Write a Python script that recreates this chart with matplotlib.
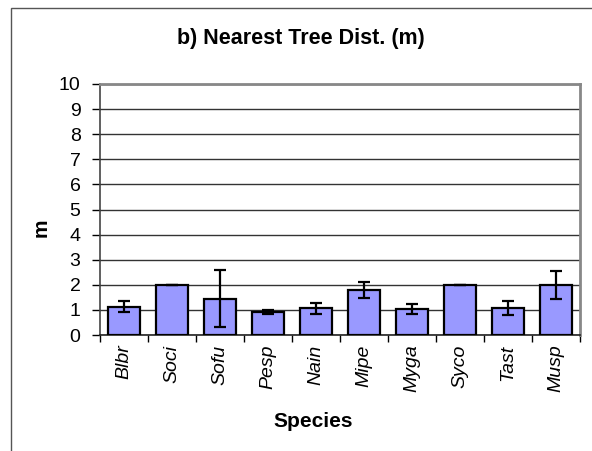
import matplotlib
matplotlib.use("Agg")
import matplotlib.pyplot as plt
from matplotlib.patches import Rectangle

species = ['Blbr', 'Soci', 'Sofu', 'Pesp', 'Nain', 'Mipe', 'Myga', 'Syco', 'Tast', 'Musp']
mean_dist = [1.13, 2.0, 1.44, 0.93, 1.06, 1.80, 1.03, 2.0, 1.07, 2.0]
err_dist = [0.21, 0.0, 1.13, 0.08, 0.23, 0.33, 0.20, 0.0, 0.28, 0.56]

plt.rcParams['font.family'] = ['Liberation Sans', 'DejaVu Sans']

W, H = 592, 451
fig = plt.figure(figsize=(W / 100, H / 100), dpi=100)
ax = fig.add_axes([100 / W, 116 / H, 480 / W, 251 / H])

# outer chart border (only left and top visible in the crop)
fig.patches.append(Rectangle((10.5 / W, -0.1), 1.2, (H - 8.5) / H + 0.1,
                             transform=fig.transFigure, fill=False,
                             edgecolor='#555555', linewidth=1.0))

x = list(range(len(species)))
ax.bar(x, mean_dist, width=0.68, color='#9999ff', edgecolor='black',
       linewidth=1.6, zorder=3)
ax.errorbar(x, mean_dist, yerr=err_dist, fmt='none', ecolor='black',
            elinewidth=1.6, capsize=4.3, capthick=1.6, zorder=4)

ax.set_xlim(-0.5, len(species) - 0.5)
ax.set_ylim(0, 10)
ax.set_yticks(range(0, 11))
ax.set_yticklabels([str(v) for v in range(0, 11)], fontsize=14)
ax.set_xticks([i - 0.5 for i in range(len(species) + 1)])
ax.set_xticklabels([])
ax.set_xticks(x, minor=True)
ax.set_xticklabels(species, minor=True, rotation=90, fontsize=14, style='italic')
ax.tick_params(axis='x', which='minor', length=0, pad=7)
ax.tick_params(axis='x', which='major', length=5, width=1, direction='out')
ax.tick_params(axis='y', length=6, width=1, direction='out', pad=8)

ax.yaxis.grid(True, color='#333333', linewidth=1.0, zorder=0)
ax.set_axisbelow(True)

for side in ['top', 'right']:
    ax.spines[side].set_color('#888888')
    ax.spines[side].set_linewidth(2)
ax.spines['left'].set_color('#444444')
ax.spines['bottom'].set_color('#222222')
ax.spines['left'].set_linewidth(1.2)
ax.spines['bottom'].set_linewidth(1.2)

fig.text(301 / W, 1 - 44 / H, 'b) Nearest Tree Dist. (m)', fontsize=15.5,
         fontweight='bold', ha='center', va='baseline')
fig.text(313 / W, 1 - 427 / H, 'Species', fontsize=15, fontweight='bold',
         ha='center', va='baseline')
fig.text(41 / W, 1 - 228 / H, 'm', fontsize=15, fontweight='bold',
         rotation=90, ha='center', va='center')

fig.savefig('out.png', dpi=100)
